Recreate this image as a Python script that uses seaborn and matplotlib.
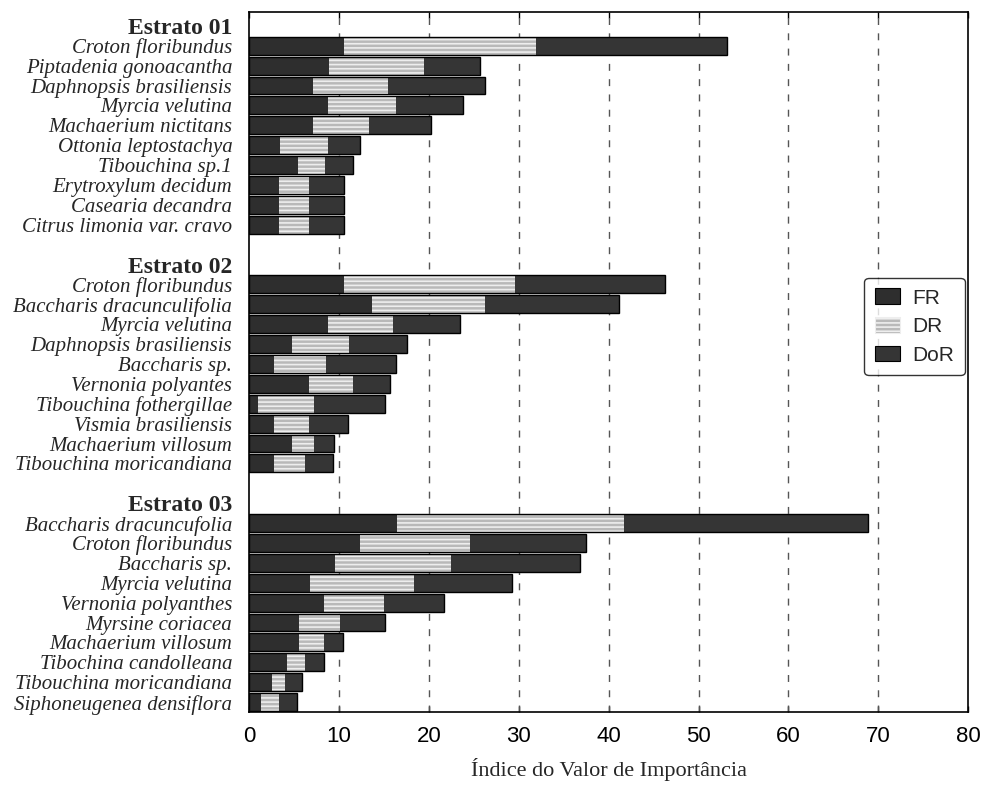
import matplotlib
matplotlib.use("Agg")
import matplotlib.pyplot as plt
from matplotlib.patches import Patch
import numpy as np
import pandas as pd
import seaborn as sns

# Importance value components (FR, DR, DoR) per species in each stratum
strata = ["Estrato 01", "Estrato 02", "Estrato 03"]

species_01 = ["Croton floribundus", "Piptadenia gonoacantha", "Daphnopsis brasiliensis",
              "Myrcia velutina", "Machaerium nictitans", "Ottonia leptostachya",
              "Tibouchina sp.1", "Erytroxylum decidum", "Casearia decandra",
              "Citrus limonia var. cravo"]
fr_01 = [10.6, 8.9, 7.1, 8.8, 7.1, 3.4, 5.4, 3.3, 3.3, 3.3]
dr_01 = [21.3, 10.6, 8.4, 7.5, 6.3, 5.4, 3.0, 3.4, 3.4, 3.4]
dor_01 = [21.3, 6.2, 10.7, 7.5, 6.8, 3.6, 3.2, 3.9, 3.9, 3.9]

species_02 = ["Croton floribundus", "Baccharis dracunculifolia", "Myrcia velutina",
              "Daphnopsis brasiliensis", "Baccharis sp.", "Vernonia polyantes",
              "Tibouchina fothergillae", "Vismia brasiliensis", "Machaerium villosum",
              "Tibouchina moricandiana"]
fr_02 = [10.6, 13.7, 8.8, 4.8, 2.8, 6.7, 1.0, 2.8, 4.8, 2.8]
dr_02 = [19.0, 12.6, 7.2, 6.3, 5.8, 4.9, 6.2, 3.9, 2.4, 3.4]
dor_02 = [16.7, 14.9, 7.5, 6.5, 7.8, 4.1, 7.9, 4.3, 2.3, 3.2]

species_03 = ["Baccharis dracuncufolia", "Croton floribundus", "Baccharis sp.",
              "Myrcia velutina", "Vernonia polyanthes", "Myrsine coriacea",
              "Machaerium villosum", "Tibochina candolleana", "Tibouchina moricandiana",
              "Siphoneugenea densiflora"]
fr_03 = [16.5, 12.4, 9.6, 6.8, 8.3, 5.6, 5.6, 4.2, 2.6, 1.3]
dr_03 = [25.2, 12.2, 12.9, 11.6, 6.7, 4.5, 2.7, 2.0, 1.4, 2.0]
dor_03 = [27.2, 12.9, 14.3, 10.8, 6.7, 5.0, 2.2, 2.1, 1.9, 2.0]

x_ticks = [0, 10, 20, 30, 40, 50, 60, 70, 80]

groups = [
    (strata[0], species_01, fr_01, dr_01, dor_01),
    (strata[1], species_02, fr_02, dr_02, dor_02),
    (strata[2], species_03, fr_03, dr_03, dor_03),
]

# Build long table and row order (header row + species rows, blank row between strata)
records = []
order, labels, is_header = [], [], []
for gi, (name, sp, fr, dr, dor) in enumerate(groups):
    if gi > 0:
        key = f"blank{gi}"
        order.append(key); labels.append(""); is_header.append(False)
    order.append(name); labels.append(name); is_header.append(True)
    for s, a, b, c in zip(sp, fr, dr, dor):
        key = f"{name}|{s}"
        order.append(key); labels.append(s); is_header.append(False)
        records.append({"row": key, "FR": a, "DR": b, "DoR": c})

df = pd.DataFrame(records)
df["FR_DR"] = df["FR"] + df["DR"]
df["total"] = df["FR_DR"] + df["DoR"]

sns.set_theme(style="white")
plt.rcParams["font.family"] = ["Liberation Sans", "DejaVu Sans"]
plt.rcParams["hatch.linewidth"] = 1.2

fig = plt.figure(figsize=(9.9, 7.87), dpi=100)
ax = fig.add_axes([0.2515, 0.0953, 0.7265, 0.8895])

c_fr = "#2e2e2e"
c_dr = "#b9b9b9"
c_dor = "#353535"
hatch_col = "#eeeeee"
bw = 0.9

# Stacked bars as cumulative overlays
sns.barplot(data=df, x="total", y="row", order=order, orient="h", color=c_dor,
            saturation=1, width=bw, linewidth=0, ax=ax, zorder=3)
n0 = len(ax.patches)
sns.barplot(data=df, x="FR_DR", y="row", order=order, orient="h", color=c_dr,
            saturation=1, width=bw, linewidth=0, ax=ax, zorder=3)
for p in ax.patches[n0:]:
    p.set_hatch("----")
    p.set_edgecolor(hatch_col)
sns.barplot(data=df, x="FR", y="row", order=order, orient="h", color=c_fr,
            saturation=1, width=bw, linewidth=0, ax=ax, zorder=3)
sns.barplot(data=df, x="total", y="row", order=order, orient="h", color="black",
            fill=False, width=bw, linewidth=1.0, ax=ax, zorder=4)

ax.set_xlim(0, 80)
ax.set_ylim(len(order) - 0.5, -0.7)
ax.set_xticks(x_ticks)
ax.set_xticklabels([str(t) for t in x_ticks], fontsize=16)
ax.set_yticks(range(len(order)))
ax.set_yticklabels(labels)
for tl, h in zip(ax.get_yticklabels(), is_header):
    tl.set_fontfamily("Liberation Serif")
    if h:
        tl.set_fontweight("bold")
        tl.set_fontsize(17)
    else:
        tl.set_fontstyle("italic")
        tl.set_fontsize(15)

ax.tick_params(axis="y", length=0, pad=12)
ax.tick_params(axis="x", direction="in", length=4, width=1, top=True, bottom=True,
               colors="black", pad=10)
ax.set_ylabel("")
ax.set_xlabel("Índice do Valor de Importância", fontfamily="Liberation Serif",
              fontsize=16, labelpad=8)

for xv in x_ticks[1:-1]:
    ax.axvline(xv, color="#555555", linestyle=(0, (5, 6)), linewidth=1.0, zorder=1)

for sp in ax.spines.values():
    sp.set_color("black")
    sp.set_linewidth(1.2)

handles = [
    Patch(facecolor=c_fr, edgecolor="black", linewidth=0.8),
    Patch(facecolor=c_dr, edgecolor=hatch_col, hatch="----", linewidth=0.8),
    Patch(facecolor=c_dor, edgecolor="black", linewidth=0.8),
]
leg = ax.legend(handles, ["FR", "DR", "DoR"], loc="upper right",
                bbox_to_anchor=(0.995, 0.62), fontsize=15, frameon=True,
                fancybox=True, edgecolor="black", handlelength=1.2,
                handleheight=0.8, handletextpad=0.6, borderpad=0.5,
                labelspacing=0.45, borderaxespad=0)
leg.get_frame().set_linewidth(1.0)
leg.set_zorder(6)

fig.savefig("out.png", dpi=100, facecolor="white")
